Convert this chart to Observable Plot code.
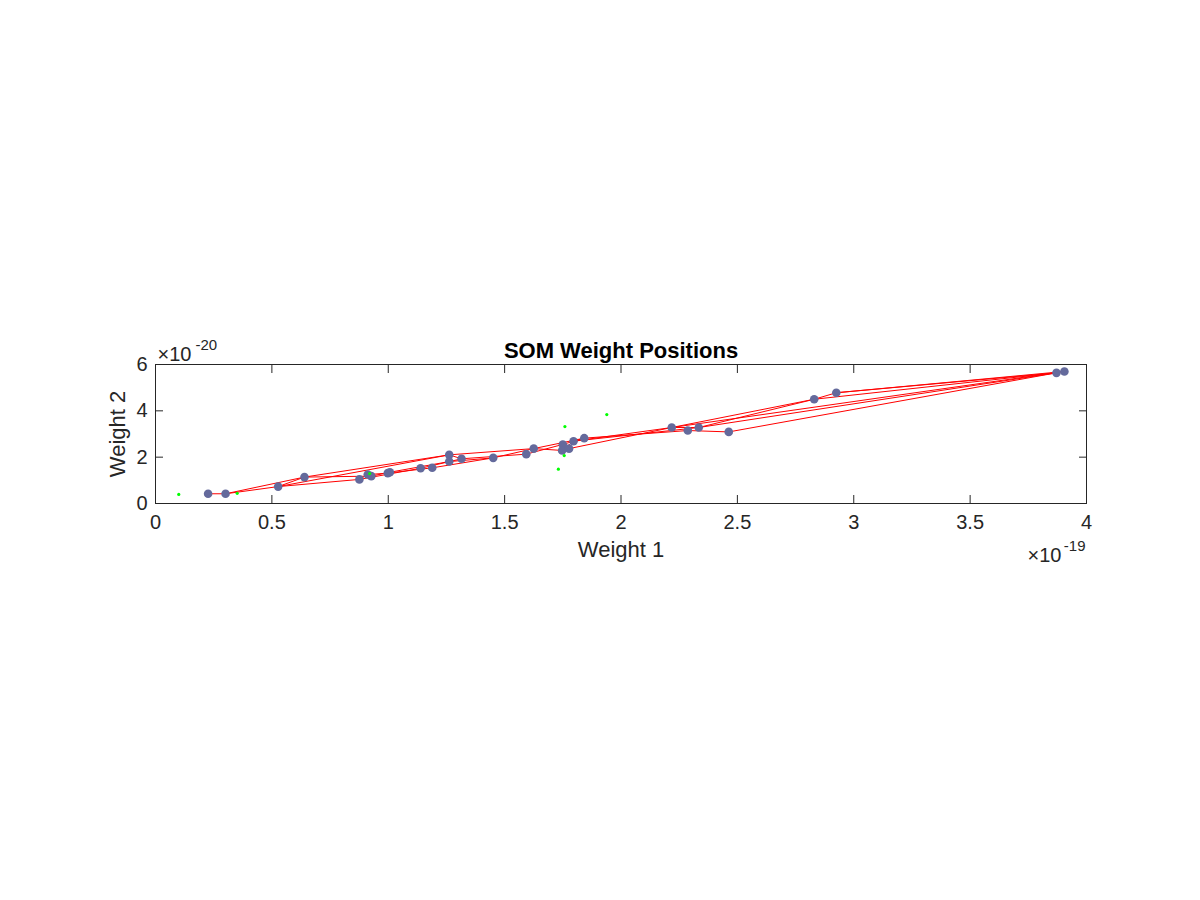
<!DOCTYPE html>
<html>
<head>
<meta charset="utf-8">
<script src="https://cdn.jsdelivr.net/npm/d3@7"></script>
<script src="https://cdn.jsdelivr.net/npm/@observablehq/plot@0.6"></script>
<style>
  html, body { margin: 0; padding: 0; background: #ffffff; }
  #chart { width: 1200px; height: 900px; }
</style>
</head>
<body>
<div id="chart"></div>
<script>
// Neuron weight positions (Weight 1 in units of 1e-19, Weight 2 in units of 1e-20)
const neuronW1 = [0.226, 0.301, 0.527, 0.640, 0.876, 0.912, 0.927, 0.998, 1.007, 1.139,
                  1.189, 1.262, 1.262, 1.315, 1.451, 1.593, 1.625, 1.750, 1.747, 1.777,
                  1.796, 1.842, 2.218, 2.287, 2.334, 2.463, 2.830, 2.925, 3.871, 3.905];
const neuronW2 = [0.42, 0.42, 0.73, 1.14, 1.04, 1.25, 1.18, 1.31, 1.35, 1.52,
                  1.54, 2.10, 1.81, 1.93, 1.97, 2.13, 2.37, 2.55, 2.29, 2.37,
                  2.69, 2.82, 3.28, 3.15, 3.28, 3.09, 4.50, 4.78, 5.64, 5.70];

// Neighbour connections (indices into the neuron arrays)
const linkFrom = [0, 1, 1, 2, 2, 2, 3, 3, 4, 4, 5, 6, 7, 8, 9, 10, 11, 12, 11, 13, 14,
                  15, 16, 17, 18, 16, 19, 20, 21, 22, 23, 24, 22, 26, 27, 26, 27, 24, 22, 25, 20, 17];
const linkTo   = [1, 2, 3, 3, 4, 11, 6, 11, 5, 9, 7, 8, 10, 12, 13, 14, 13, 14, 16, 15, 16,
                  17, 18, 19, 20, 21, 22, 24, 23, 24, 25, 26, 26, 27, 28, 28, 29, 28, 29, 28, 22, 21];

// Input vectors (green points)
const inputW1 = [0.100, 0.351, 0.920, 1.731, 1.756, 1.759, 1.939];
const inputW2 = [0.39, 0.44, 1.29, 1.48, 2.07, 3.32, 3.84];

// Axis ticks
const xTicks = [0, 0.5, 1, 1.5, 2, 2.5, 3, 3.5, 4];
const yTicks = [0, 2, 4, 6];

const titleText = "SOM Weight Positions";
const xLabel = "Weight 1";
const yLabel = "Weight 2";
const xExpBase = "×10", xExpPow = "-19";
const yExpBase = "×10", yExpPow = "-20";

const neurons = neuronW1.map((x, i) => ({x, y: neuronW2[i]}));
const links = linkFrom.map((a, i) => ({
  x1: neuronW1[a], y1: neuronW2[a], x2: neuronW1[linkTo[i]], y2: neuronW2[linkTo[i]]
}));
const inputs = inputW1.map((x, i) => ({x, y: inputW2[i]}));

const ink = "#262626";
const font = "'Liberation Sans', Arial, Helvetica, sans-serif";
const fmt = d => String(d);

const chart = Plot.plot({
  width: 1200,
  height: 900,
  marginLeft: 155,
  marginRight: 114,
  marginTop: 364,
  marginBottom: 397,
  style: {fontFamily: font, color: ink, background: "#ffffff", overflow: "visible"},
  x: {domain: [0, 4]},
  y: {domain: [0, 6]},
  marks: [
    Plot.link(links, {x1: "x1", y1: "y1", x2: "x2", y2: "y2", stroke: "#ff0000", strokeWidth: 1}),
    Plot.dot(neurons, {x: "x", y: "y", r: 4.3, fill: "#646a9c", stroke: "none"}),
    Plot.dot(inputs, {x: "x", y: "y", r: 1.6, fill: "#00ff00", stroke: "none"}),
    Plot.frame({stroke: ink, strokeWidth: 1}),
    // inward ticks
    Plot.axisX(xTicks, {anchor: "bottom", tickSize: -8, text: null, label: null, stroke: ink}),
    Plot.axisX(xTicks, {anchor: "top", tickSize: -8, text: null, label: null, stroke: ink}),
    Plot.axisY(yTicks, {anchor: "left", tickSize: -8, text: null, label: null, stroke: ink}),
    Plot.axisY(yTicks, {anchor: "right", tickSize: -8, text: null, label: null, stroke: ink}),
    // tick labels
    Plot.axisX(xTicks, {anchor: "bottom", tickSize: 0, tickPadding: 11, fontSize: 20, label: null, fill: ink, tickFormat: fmt}),
    Plot.axisY(yTicks, {anchor: "left", tickSize: 0, tickPadding: 8, fontSize: 20, label: null, fill: ink, tickFormat: fmt}),
    // title and axis labels
    Plot.text([titleText], {frameAnchor: "top", dy: -7, lineAnchor: "bottom", fontSize: 22, fontWeight: "bold", fill: "#000000"}),
    Plot.text([xLabel], {frameAnchor: "bottom", dy: 53, lineAnchor: "bottom", fontSize: 22, fill: ink}),
    Plot.text([yLabel], {frameAnchor: "left", dx: -31, rotate: -90, textAnchor: "middle", lineAnchor: "bottom", fontSize: 22, fill: ink}),
    // exponent labels
    Plot.text([yExpBase], {frameAnchor: "top-left", dx: 2, dy: -4, textAnchor: "start", lineAnchor: "bottom", fontSize: 20, fill: ink}),
    Plot.text([yExpPow], {frameAnchor: "top-left", dx: 40, dy: -15, textAnchor: "start", lineAnchor: "bottom", fontSize: 15, fill: ink}),
    Plot.text([xExpBase], {frameAnchor: "bottom-right", dx: -25, dy: 58.5, textAnchor: "end", lineAnchor: "bottom", fontSize: 20, fill: ink}),
    Plot.text([xExpPow], {frameAnchor: "bottom-right", dx: -1, dy: 47, textAnchor: "end", lineAnchor: "bottom", fontSize: 15, fill: ink})
  ]
});
document.getElementById("chart").appendChild(chart);
</script>
</body>
</html>
